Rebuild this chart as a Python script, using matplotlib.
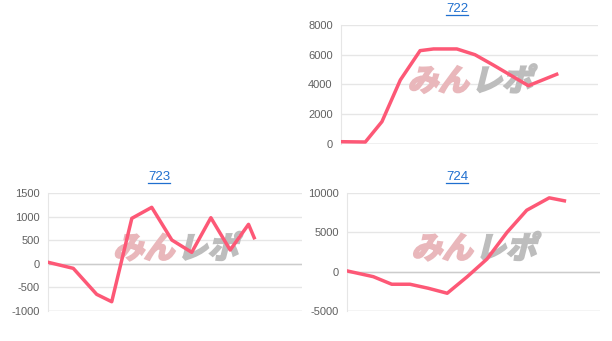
import matplotlib
matplotlib.use("Agg")
import matplotlib.pyplot as plt
from matplotlib.lines import Line2D
from matplotlib.patches import PathPatch
from matplotlib.textpath import TextPath
from matplotlib.font_manager import FontProperties
from matplotlib.transforms import Affine2D, ScaledTranslation

plt.rcParams['font.family'] = ['Liberation Sans', 'DejaVu Sans']
plt.rcParams['axes.unicode_minus'] = False

# machine numbers and their hourly difference data (time in hours)
names = ["722", "723", "724"]

t_722 = [10.0, 11.23, 12.07, 13.0, 14.0, 14.68, 15.86, 16.78, 17.7, 19.48, 20.91]
v_722 = [155, 134, 1500, 4300, 6275, 6390, 6390, 6000, 5311, 3920, 4686]

t_723 = [10.0, 11.28, 12.48, 13.25, 14.28, 15.3, 16.33, 17.35, 18.33, 19.32, 20.26, 20.55]
v_723 = [30, -98, -652, -809, 967, 1201, 505, 243, 980, 292, 839, 554]

t_724 = [10.0, 11.34, 12.29, 13.23, 14.17, 15.15, 16.17, 17.2, 18.23, 19.25, 20.41, 21.19]
v_724 = [77, -652, -1620, -1620, -2130, -2770, -680, 1600, 5000, 7840, 9420, 9040]

yticks_722 = [0, 2000, 4000, 6000, 8000]
yticks_723 = [-1000, -500, 0, 500, 1000, 1500]
yticks_724 = [-5000, 0, 5000, 10000]

W, H = 612, 341
LINE = "#fd5876"
GRID = "#e6e6e6"

fig = plt.figure(figsize=(W / 100, H / 100), dpi=100)
fig.patch.set_facecolor("white")


def px_axes(left, right, top, bottom):
    return fig.add_axes([left / W, (H - bottom) / H, (right - left) / W, (bottom - top) / H])


def watermark(ax, fx=0.5, fy=0.56):
    fp = FontProperties(family="Noto Sans CJK JP", weight="bold")
    p1 = TextPath((0, 0), "みん", size=22, prop=fp)
    p2 = TextPath((0, 0), "レポ", size=22, prop=fp)
    w1 = p1.get_extents().width
    w2 = p2.get_extents().width
    total = w1 + w2 + 4
    h = p1.get_extents().height
    s = fig.dpi / 72
    for path, x0, col in [(p1, -total / 2, "#e9b7bb"), (p2, -total / 2 + w1 + 4, "#bdbdbd")]:
        tr = (Affine2D().translate(x0, -h / 2).skew_deg(14, 0).scale(s)
              + ScaledTranslation(fx, fy, ax.transAxes))
        ax.add_artist(PathPatch(path, transform=tr, facecolor=col, edgecolor=col,
                                lw=1.6, zorder=1, clip_on=False))


def panel(ax, t, v, yticks, title, tx, ty):
    ax.set_xlim(10, 23)
    ax.set_ylim(yticks[0], yticks[-1])
    ax.set_yticks(yticks)
    ax.set_xticks([])
    ax.grid(axis="y", color=GRID, lw=1)
    ax.set_axisbelow(True)
    for s in ["top", "right"]:
        ax.spines[s].set_visible(False)
    ax.spines["left"].set_color(GRID)
    ax.spines["bottom"].set_visible(False)
    ax.axhline(0, color="#cccccc", lw=1, zorder=1)
    if yticks[0] != 0:
        ax.axhline(yticks[0], color="#dddddd", lw=1, zorder=1)
    ax.tick_params(axis="y", length=0, pad=6, labelsize=8, labelcolor="#606060")
    watermark(ax)
    ax.plot(t, v, color=LINE, lw=2.5, zorder=3, solid_joinstyle="round")
    fig.text(tx / W, 1 - ty / H, title, ha="center", va="center",
             fontsize=9.5, color="#1f6fcf")
    fig.add_artist(Line2D([(tx - 11) / W, (tx + 11) / W], [1 - (ty + 6) / H] * 2,
                          color="#1f6fcf", lw=0.9))


ax1 = px_axes(341, 598, 25, 144)
panel(ax1, t_722, v_722, yticks_722, names[0], 457, 9)

ax2 = px_axes(48.3, 302, 193.3, 310.7)
panel(ax2, t_723, v_723, yticks_723, names[1], 159, 177)

ax3 = px_axes(347.3, 599.5, 193.3, 310.7)
panel(ax3, t_724, v_724, yticks_724, names[2], 457, 177)

fig.savefig("out.png", dpi=100)
